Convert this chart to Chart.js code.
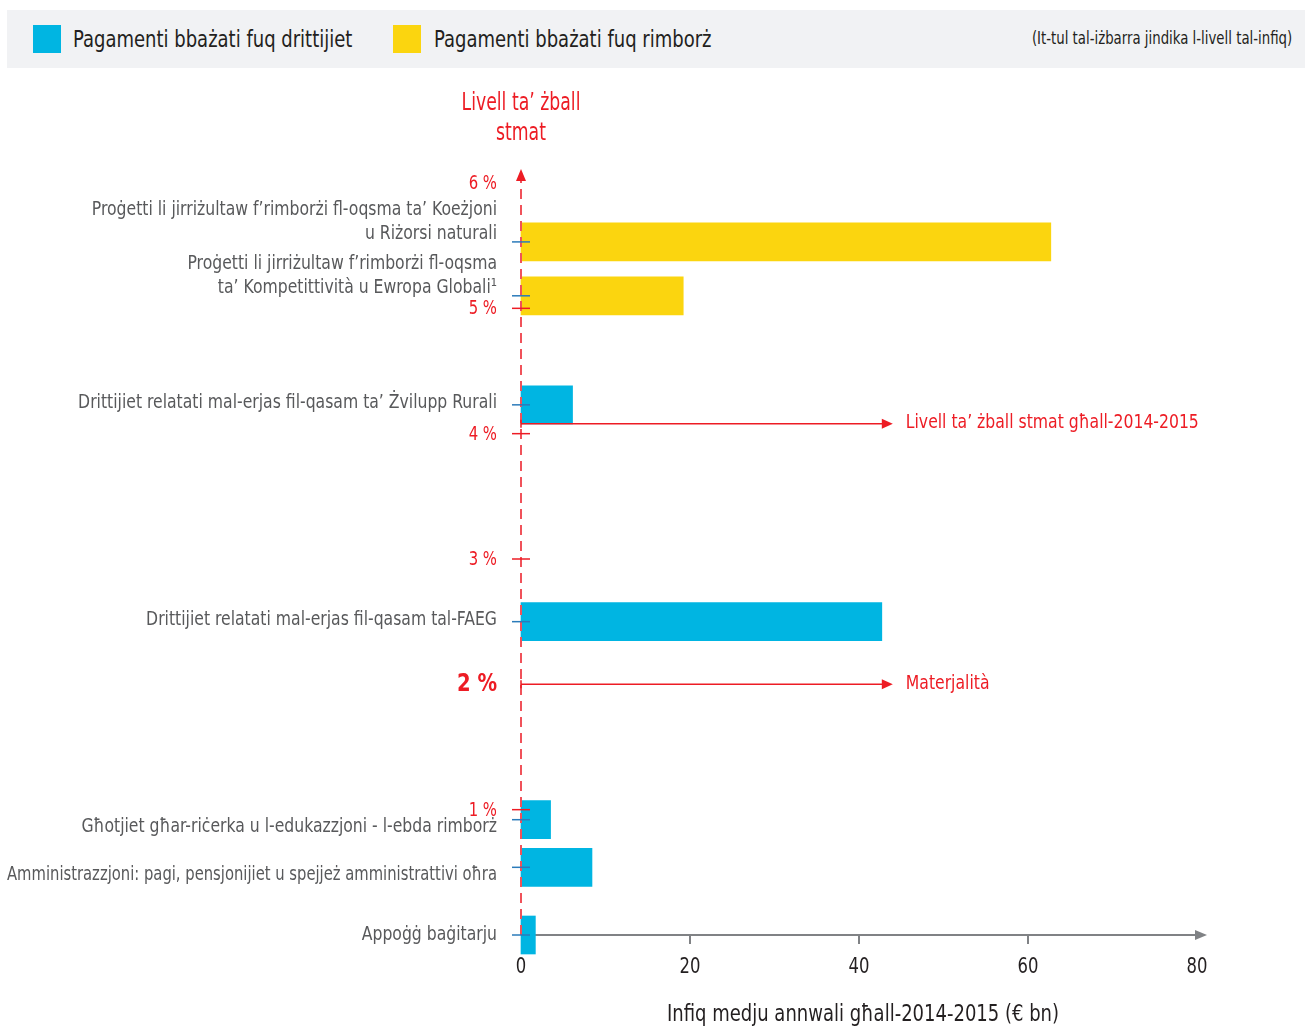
<!DOCTYPE html>
<html lang="mt">
<head>
<meta charset="UTF-8">
<title>Livell ta’ żball stmat</title>
<script src="https://cdn.jsdelivr.net/npm/chart.js@4"></script>
<style>
  * { margin: 0; padding: 0; box-sizing: border-box; }
  body { background: #fff; width: 1310px; height: 1030px; position: relative; overflow: hidden;
         font-family: 'DejaVu Sans Condensed', sans-serif; color: #231f20; }
  canvas { position: absolute; left: 0; top: 0; }
  .leġenda { position: absolute; left: 7px; top: 10px; width: 1298px; height: 58px; background: #f1f2f4; z-index: 2; }
  .leġenda .kaxxa { position: absolute; top: 15px; width: 28px; height: 28px; }
  .leġenda .test { position: absolute; top: 0; line-height: 58px; font-size: 23px; white-space: nowrap;
                   transform: scaleX(0.87); transform-origin: left center; }
  .leġenda .nota { position: absolute; right: 13px; top: 0; line-height: 56px; font-size: 17px; white-space: nowrap;
                   transform: scaleX(0.87); transform-origin: right center; }
</style>
</head>
<body>
<canvas id="grafika" width="1310" height="1030"></canvas>
<div class="leġenda" id="legenda"></div>

<script>
// --- data ---
const kategoriji = [
  ['Proġetti li jirriżultaw f’rimborżi fl-oqsma ta’ Koeżjoni', 'u Riżorsi naturali'],
  ['Proġetti li jirriżultaw f’rimborżi fl-oqsma', 'ta’ Kompetittività u Ewropa Globali¹'],
  'Drittijiet relatati mal-erjas fil-qasam ta’ Żvilupp Rurali',
  'Drittijiet relatati mal-erjas fil-qasam tal-FAEG',
  'Għotjiet għar-riċerka u l-edukazzjoni - l-ebda rimborż',
  'Amministrazzjoni: pagi, pensjonijiet u spejjeż amministrattivi oħra',
  'Appoġġ baġitarju'
];
const tipPagament = ['rimborz', 'rimborz', 'drittijiet', 'drittijiet', 'drittijiet', 'drittijiet', 'drittijiet'];
const livellZball = [5.53, 5.1, 4.23, 2.5, 0.92, 0.54, 0];   // %
const infiq = [62.7, 19.2, 6.1, 42.7, 3.5, 8.4, 1.7];         // € bn

const serji = ['drittijiet', 'rimborz'];
const serjiTikketti = ['Pagamenti bbażati fuq drittijiet', 'Pagamenti bbażati fuq rimborż'];
const notaLeġenda = '(It-tul tal-iżbarra jindika l-livell tal-infiq)';

const tikkiY = [0, 1, 2, 3, 4, 5, 6];
const tikkiX = [0, 20, 40, 60, 80];

const referenzaLivell = [4.08, 2];
const referenzaTest = ['Livell ta’ żball stmat għall-2014-2015', 'Materjalità'];
const referenzaTul = 44;

const titoluY = ['Livell ta’ żball', 'stmat'];
const titoluX = 'Infiq medju annwali għall-2014-2015 (€ bn)';

// --- stili ---
const kuluri = { drittijiet: '#00b5e2', rimborz: '#fbd50f' };
const AHMAR = '#ed1c24';
const FONT = "'DejaVu Sans Condensed', sans-serif";
const KX = 0.87;   // tagħfis orizzontali tat-test
const bidlaTikketta = [0, 0, -2, -2, 7, 7, 0];

// leġenda HTML
const pożLeġenda = [{ kaxxa: 26, test: 66 }, { kaxxa: 386, test: 427 }];
document.getElementById('legenda').innerHTML = serji.map((s, i) =>
  `<span class="kaxxa" style="left:${pożLeġenda[i].kaxxa}px;background:${kuluri[s]}"></span>` +
  `<span class="test" style="left:${pożLeġenda[i].test}px">${serjiTikketti[i]}</span>`
).join('') + `<span class="nota">${notaLeġenda}</span>`;

function tekst(ctx, s, x, y, align, maxW, kx) {
  const k = kx || KX;
  ctx.save();
  ctx.translate(x, y);
  ctx.scale(k, 1);
  ctx.textAlign = align;
  if (maxW) ctx.fillText(s, 0, 0, maxW / k);
  else ctx.fillText(s, 0, 0);
  ctx.restore();
}

function vleġġa(ctx, x, y, dx, dy, tul, wisa) {
  const ang = Math.atan2(dy, dx);
  ctx.beginPath();
  ctx.moveTo(x, y);
  ctx.lineTo(x - tul * Math.cos(ang) + wisa * Math.sin(ang), y - tul * Math.sin(ang) - wisa * Math.cos(ang));
  ctx.lineTo(x - tul * Math.cos(ang) - wisa * Math.sin(ang), y - tul * Math.sin(ang) + wisa * Math.cos(ang));
  ctx.closePath();
  ctx.fill();
}

const assi = {
  id: 'assi',
  beforeDatasetsDraw(chart) {
    const { ctx, scales: { x, y } } = chart;
    const x0 = x.getPixelForValue(0), y0 = y.getPixelForValue(0);
    ctx.save();
    ctx.strokeStyle = '#808285';
    ctx.fillStyle = '#808285';
    ctx.lineWidth = 2;
    ctx.beginPath();
    ctx.moveTo(x0, y0);
    ctx.lineTo(x.right + 2, y0);
    ctx.stroke();
    vleġġa(ctx, x.right + 10, y0, 1, 0, 12, 5);
    x.ticks.filter(t => t.value > 0 && t.value < 80).forEach(t => {
      const px = x.getPixelForValue(t.value);
      ctx.beginPath();
      ctx.moveTo(px, y0);
      ctx.lineTo(px, y0 + 9);
      ctx.stroke();
    });

    // tikketti tal-ass X
    ctx.fillStyle = '#231f20';
    ctx.font = `21px ${FONT}`;
    ctx.textBaseline = 'middle';
    x.ticks.forEach(t => tekst(ctx, String(t.value), x.getPixelForValue(t.value), 968, 'center'));
    ctx.restore();
  },
  afterDatasetsDraw(chart) {
    const { ctx, scales: { x, y } } = chart;
    const x0 = x.getPixelForValue(0), y0 = y.getPixelForValue(0);
    ctx.save();
    ctx.textBaseline = 'middle';

    // ass vertikali maqtugħ
    ctx.strokeStyle = '#f0525a';
    ctx.fillStyle = AHMAR;
    ctx.lineWidth = 2;
    ctx.setLineDash([10, 6]);
    ctx.beginPath();
    ctx.moveTo(x0, y0);
    ctx.lineTo(x0, y.top - 8);
    ctx.stroke();
    ctx.setLineDash([]);
    vleġġa(ctx, x0, y.top - 14, 0, -1, 12, 5);

    // tikki ħomor fuq il-livelli + tikketti
    ctx.strokeStyle = AHMAR;
    ctx.lineWidth = 1.5;
    y.ticks.forEach(t => {
      const v = t.value, py = y.getPixelForValue(v);
      if (v > 0 && v < 6 && v !== 2) {
        ctx.beginPath();
        ctx.moveTo(x0 - 9, py);
        ctx.lineTo(x0 + 9, py);
        ctx.stroke();
      }
      if (v > 0) {
        ctx.font = v === 2 ? `bold 25px ${FONT}` : `19px ${FONT}`;
        tekst(ctx, v + ' %', x0 - 24, py + (v === 2 ? 0 : 1), 'right');
      }
    });

    // tikki blu fuq l-iżbarri
    ctx.strokeStyle = '#2b7bba';
    livellZball.forEach(v => {
      const py = y.getPixelForValue(v);
      ctx.beginPath();
      ctx.moveTo(x0 - 9, py);
      ctx.lineTo(x0 + 9, py);
      ctx.stroke();
    });

    // vleġeġ ta' referenza
    ctx.strokeStyle = AHMAR;
    ctx.fillStyle = AHMAR;
    ctx.font = `20px ${FONT}`;
    referenzaLivell.forEach((v, i) => {
      const py = y.getPixelForValue(v);
      const px = x.getPixelForValue(referenzaTul);
      ctx.beginPath();
      ctx.moveTo(x0, py);
      ctx.lineTo(px - 6, py);
      ctx.stroke();
      ctx.beginPath();
      ctx.moveTo(x0, py - 4);
      ctx.lineTo(x0, py + 4);
      ctx.stroke();
      vleġġa(ctx, px, py, 1, 0, 11, 5);
      tekst(ctx, referenzaTest[i], px + 13, py - 1, 'left');
    });

    // titolu tal-ass Y
    ctx.font = `24px ${FONT}`;
    titoluY.forEach((t, i) => tekst(ctx, t, x0, 104 + i * 30, 'center', null, 0.8));

    // tikketti tal-kategoriji
    ctx.fillStyle = '#58595b';
    ctx.font = `20px ${FONT}`;
    const wisaMax = x0 - 24 - 7;
    kategoriji.forEach((k, j) => {
      const py = y.getPixelForValue(livellZball[j]);
      if (Array.isArray(k)) {
        k.forEach((l, n) => tekst(ctx, l, x0 - 24, py - 8 - (k.length - 1 - n) * 24, 'right', wisaMax));
      } else {
        tekst(ctx, k, x0 - 24, py + bidlaTikketta[j], 'right', wisaMax);
      }
    });

    // titolu tal-ass X
    ctx.fillStyle = '#231f20';
    ctx.font = `23px ${FONT}`;
    tekst(ctx, titoluX, (x.left + x.right) / 2 + 4, 1015, 'center');
    ctx.restore();
  }
};

new Chart(document.getElementById('grafika'), {
  type: 'bar',
  data: {
    datasets: serji.map((s, i) => ({
      label: serjiTikketti[i],
      data: infiq.map((v, j) => tipPagament[j] === s ? { x: v, y: livellZball[j] } : null).filter(Boolean),
      backgroundColor: kuluri[s],
      borderWidth: 0,
      barThickness: 38,
      grouped: false,
      clip: false
    }))
  },
  options: {
    indexAxis: 'y',
    responsive: false,
    animation: false,
    layout: { padding: { top: 183, right: 113, bottom: 0, left: 0 } },
    plugins: { legend: { display: false }, tooltip: { enabled: false } },
    scales: {
      y: {
        type: 'linear',
        min: 0,
        max: 6,
        offset: false,
        afterFit: s => { s.width = 521; },
        afterBuildTicks: s => { s.ticks = tikkiY.map(v => ({ value: v })); },
        grid: { display: false, drawTicks: false },
        border: { display: false },
        ticks: { display: false }
      },
      x: {
        type: 'linear',
        min: 0,
        max: 80,
        offset: false,
        afterFit: s => { s.height = 95; },
        afterBuildTicks: s => { s.ticks = tikkiX.map(v => ({ value: v })); },
        grid: { display: false, drawTicks: false },
        border: { display: false },
        ticks: { display: false }
      }
    }
  },
  plugins: [assi]
});
</script>
</body>
</html>
